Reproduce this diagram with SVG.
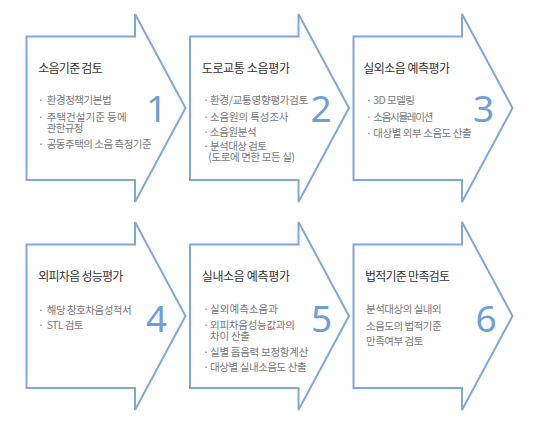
<svg xmlns="http://www.w3.org/2000/svg" width="534" height="421" viewBox="0 0 534 421">
<style>
.arrow{fill:#ffffff;stroke:#7ea7db;stroke-width:2;stroke-linejoin:miter}
.title{font-family:"Noto Sans CJK KR","Noto Sans",sans-serif;font-size:12px;fill:#333333}
.item{font-family:"Noto Sans CJK KR","Noto Sans",sans-serif;font-size:10.5px;fill:#777777}
.num{font-family:"Noto Sans","Open Sans",sans-serif;font-size:37px;fill:#6f9fd8;text-anchor:middle}
</style>
<defs>
<path id="arr" d="M0,0 H108.5 V-22.5 L159,71.5 L108.5,165.5 V143.5 H0 Z"/>
</defs>
<rect width="534" height="421" fill="#ffffff"/>
<g id="connectors"></g>

<g id="node1">
<use href="#arr" class="arrow" x="26.5" y="36.5"/>
<text class="title" x="38.3" y="73" textLength="64.4">소음기준 검토</text>
<text class="item" x="38" y="104">·</text>
<text class="item" x="46.7" y="104" textLength="65">환경정책기본법</text>
<text class="item" x="38" y="120.5">·</text>
<text class="item" x="46.7" y="120.5" textLength="80">주택건설기준 등에</text>
<text class="item" x="46.7" y="131.8" textLength="36.6">관한규정</text>
<text class="item" x="38" y="148.3">·</text>
<text class="item" x="46.7" y="148.3" textLength="105">공동주택의 소음 측정기준</text>
<text class="num" x="156.5" y="121.7">1</text>
</g>

<g id="node2">
<use href="#arr" class="arrow" x="190" y="36.5"/>
<text class="title" x="201.7" y="73" textLength="88.3">도로교통 소음평가</text>
<text class="item" x="203" y="104">·</text>
<text class="item" x="210" y="104" textLength="98.3">환경/교통영향평가검토</text>
<text class="item" x="203" y="120.7">·</text>
<text class="item" x="210" y="120.7" textLength="78.3">소음원의 특성조사</text>
<text class="item" x="203" y="135.7">·</text>
<text class="item" x="210" y="135.7" textLength="46.7">소음원분석</text>
<text class="item" x="203" y="150.2">·</text>
<text class="item" x="210" y="150.2" textLength="57">분석대상 검토</text>
<text class="item" x="208.3" y="161.2" textLength="86.7">(도로에 면한 모든 실)</text>
<text class="num" x="321" y="121.7">2</text>
</g>

<g id="node3">
<use href="#arr" class="arrow" x="353.5" y="36.5"/>
<text class="title" x="363.3" y="73" textLength="86.7">실외소음 예측평가</text>
<text class="item" x="366" y="104">·</text>
<text class="item" x="373.3" y="104" textLength="41.7">3D 모델링</text>
<text class="item" x="366" y="120.7">·</text>
<text class="item" x="373.3" y="120.7" textLength="60">소음시뮬레이션</text>
<text class="item" x="366" y="136.7">·</text>
<text class="item" x="373.3" y="136.7" textLength="98.3">대상별 외부 소음도 산출</text>
<text class="num" x="483.5" y="121.7">3</text>
</g>

<g id="node4">
<use href="#arr" class="arrow" x="26.5" y="244.5"/>
<text class="title" x="38.3" y="281" textLength="85">외피차음 성능평가</text>
<text class="item" x="38" y="314">·</text>
<text class="item" x="46.7" y="314" textLength="85">해당 창호차음성적서</text>
<text class="item" x="38" y="329">·</text>
<text class="item" x="46.7" y="329" textLength="36.7">STL 검토</text>
<text class="num" x="156.7" y="331.7">4</text>
</g>

<g id="node5">
<use href="#arr" class="arrow" x="190" y="244.5"/>
<text class="title" x="201.7" y="281" textLength="88.3">실내소음 예측평가</text>
<text class="item" x="203" y="313.3">·</text>
<text class="item" x="210" y="313.3" textLength="68">실외예측소음과</text>
<text class="item" x="203" y="328.7">·</text>
<text class="item" x="210" y="328.7" textLength="85">외피차음성능값과의</text>
<text class="item" x="210" y="340" textLength="40">차이 산출</text>
<text class="item" x="203" y="355.7">·</text>
<text class="item" x="210" y="355.7" textLength="98.3">실별 흡음력 보정항계산</text>
<text class="item" x="203" y="370.7">·</text>
<text class="item" x="210" y="370.7" textLength="96.7">대상별 실내소음도 산출</text>
<text class="num" x="321.5" y="331.7">5</text>
</g>

<g id="node6">
<use href="#arr" class="arrow" x="353.5" y="244.5"/>
<text class="title" x="365" y="281" textLength="85">법적기준 만족검토</text>
<text class="item" x="366" y="313.3" textLength="75.7">분석대상의 실내외</text>
<text class="item" x="366" y="329.7" textLength="75.7">소음도의 법적기준</text>
<text class="item" x="366" y="344.7" textLength="57.3">만족여부 검토</text>
<text class="num" x="486" y="331.7">6</text>
</g>
</svg>
